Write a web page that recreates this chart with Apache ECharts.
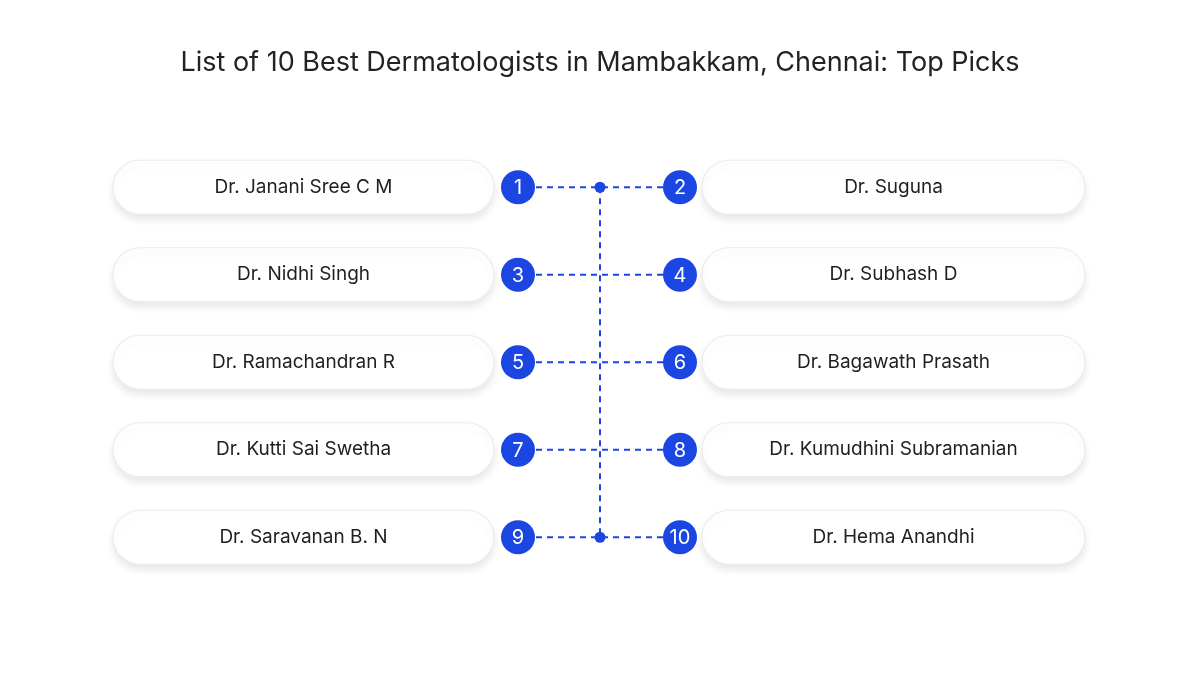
<!DOCTYPE html>
<html><head><meta charset="utf-8">
<script src="https://cdn.jsdelivr.net/npm/echarts@6/dist/echarts.min.js"></script>
<style>html,body{margin:0;background:#fff}#c{width:1200px;height:675px}</style></head>
<body><div id="c"></div>
<script>
const rows = ['r1','r2','r3','r4','r5'];
const leftNames = ['Dr. Janani Sree C M','Dr. Nidhi Singh','Dr. Ramachandran R','Dr. Kutti Sai Swetha','Dr. Saravanan B. N'];
const rightNames = ['Dr. Suguna','Dr. Subhash D','Dr. Bagawath Prasath','Dr. Kumudhini Subramanian','Dr. Hema Anandhi'];
const leftRanks = [1,3,5,7,9];
const rightRanks = [2,4,6,8,10];
const BLUE = '#1b46e2';
const chart = echarts.init(document.getElementById('c'));
const data = rows.map((r,i)=>[i, leftRanks[i], rightRanks[i]]);
chart.setOption({
  animation:false,
  title:{text:'List of 10 Best Dermatologists in Mambakkam, Chennai: Top Picks',left:'center',top:44,
    textStyle:{fontFamily:'Inter',fontWeight:'normal',fontSize:27,color:'#222'}},
  grid:{left:0,right:0,top:143.5,bottom:94},
  xAxis:{type:'value',min:0,max:1200,show:false},
  yAxis:{type:'category',data:rows,show:false,inverse:true},
  series:[{
    type:'custom',
    data:data,
    encode:{y:0},
    renderItem:function(params,api){
      const i=api.value(0);
      const y=api.coord([0,i])[1];
      const x=v=>api.coord([v,i])[0];
      const n=api.value(1), m=api.value(2);
      const ch=[];
      const box=(x0,x1,txt)=>{
        ch.push({type:'rect',shape:{x:x0,y:y-27,width:x1-x0,height:54,r:27},
          style:{fill:'#fff',stroke:'#ececec',lineWidth:1.2,shadowBlur:8,shadowOffsetY:5,shadowColor:'rgba(0,0,0,0.10)'}});
        ch.push({type:'text',style:{text:txt,x:(x0+x1)/2,y:y,align:'center',verticalAlign:'middle',
          font:'19px Inter',fill:'#1f1f1f'}});
      };
      box(x(113),x(494),leftNames[i]);
      box(x(702),x(1085),rightNames[i]);
      ch.push({type:'line',shape:{x1:x(536),y1:y,x2:x(664),y2:y},style:{stroke:BLUE,lineWidth:2,lineDash:[6,5]}});
      const circ=(cx,t)=>{
        ch.push({type:'circle',shape:{cx:cx,cy:y,r:17},style:{fill:BLUE}});
        ch.push({type:'text',style:{text:String(t),x:cx,y:y+1,align:'center',verticalAlign:'middle',font:'20px Inter',fill:'#fff'}});
      };
      circ(x(518),n); circ(x(680),m);
      if(i===0){
        const yEnd=api.coord([0,rows.length-1])[1];
        ch.push({type:'line',shape:{x1:x(600),y1:y,x2:x(600),y2:yEnd},style:{stroke:BLUE,lineWidth:2,lineDash:[6,5]}});
      }
      if(i===0||i===rows.length-1) ch.push({type:'circle',shape:{cx:x(600),cy:y,r:5.5},style:{fill:BLUE}});
      return {type:'group',children:ch};
    }
  }]
});
</script></body></html>
